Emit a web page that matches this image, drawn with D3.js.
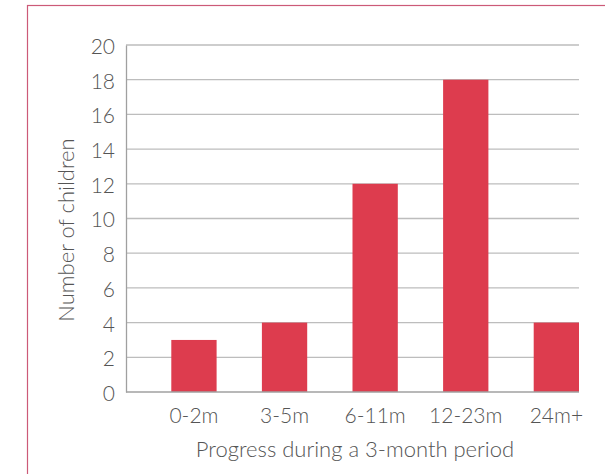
<!DOCTYPE html>
<html><head><meta charset="utf-8">
<script src="https://cdn.jsdelivr.net/npm/d3@7"></script>
<style>body{margin:0;background:#fff}svg{display:block}text{font-family:Lato,sans-serif;font-weight:300;fill:#555}</style>
</head><body><svg id="c" width="605" height="474"></svg>
<script>
const categories = ["0-2m","3-5m","6-11m","12-23m","24m+"];
const values = [3,4,12,18,4];
const yTicks = [0,2,4,6,8,10,12,14,16,18,20];
const xTitle = "Progress during a 3-month period";
const yTitle = "Number of children";

const svg = d3.select("#c");
svg.append("rect").attr("x",27.5).attr("y",5.5).attr("width",700).attr("height",600)
  .attr("fill","none").attr("stroke","#cc5a78").attr("stroke-width",1.2);

const L=126, R=579, T=45, B=392;
const x = d3.scaleBand().domain(categories).range([L,R]);
const y = d3.scaleLinear().domain([0,20]).range([B,T]);

const g = svg.append("g");
g.selectAll("line.grid").data(yTicks.filter(d=>d>0)).join("line")
  .attr("x1",L).attr("x2",R).attr("y1",d=>y(d)).attr("y2",d=>y(d))
  .attr("stroke","#bdbdbd").attr("stroke-width",1.3);

const yAxis = d3.axisLeft(y).tickValues(yTicks).tickSize(0).tickPadding(11);
const ya = svg.append("g").attr("transform",`translate(${L},0)`).call(yAxis);
ya.select(".domain").attr("stroke","#a0a0a0").attr("stroke-width",1.3);
ya.selectAll("text").style("font-size","21px").style("font-family","Lato").attr("fill","#555").attr("dy","0.4em");

svg.selectAll("rect.bar").data(values).join("rect").attr("class","bar")
  .attr("x",(d,i)=>x(categories[i])+x.bandwidth()/2)
  .attr("width",x.bandwidth()/2)
  .attr("y",d=>y(d)).attr("height",d=>B-y(d))
  .attr("fill","#dd3c4e");

svg.append("line").attr("x1",L).attr("x2",R).attr("y1",B).attr("y2",B)
  .attr("stroke","#a0a0a0").attr("stroke-width",1.5);

const xAxis = d3.axisBottom(x).tickSize(0);
const xa = svg.append("g").attr("transform",`translate(${x.bandwidth()/4},${B})`).call(xAxis);
xa.select(".domain").remove();
xa.selectAll("text").style("font-size","21px").style("font-family","Lato").attr("fill","#555")
  .attr("y",31).attr("dy",0);

svg.append("text").attr("x",355).attr("y",457).attr("text-anchor","middle")
  .style("font-size","22px").text(xTitle);
svg.append("text").attr("transform","translate(74,230) rotate(-90)").attr("text-anchor","middle")
  .style("font-size","22px").text(yTitle);
</script></body></html>
